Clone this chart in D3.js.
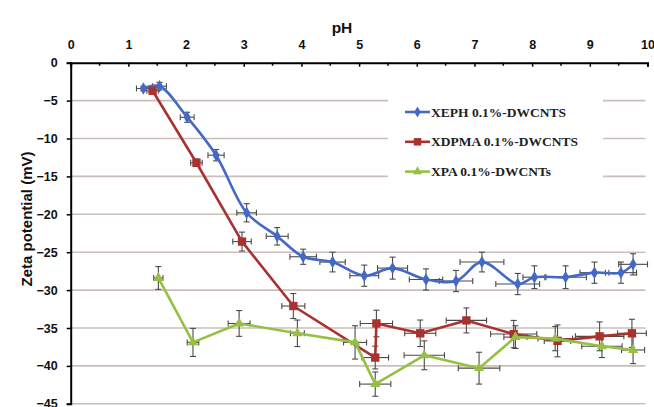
<!DOCTYPE html>
<html>
<head>
<meta charset="utf-8">
<script src="https://cdn.jsdelivr.net/npm/d3@7/dist/d3.min.js"></script>
<style>
  html, body { margin: 0; padding: 0; background: #fff; }
  svg { display: block; }
</style>
</head>
<body>
<svg id="chart" width="654" height="407"></svg>
<script>
// ---- data ----
const xTicks = [0, 1, 2, 3, 4, 5, 6, 7, 8, 9, 10];
const yTicks = [0, -5, -10, -15, -20, -25, -30, -35, -40, -45];

const seriesNames = ["XEPH 0.1%-DWCNTS", "XDPMA 0.1%-DWCNTS", "XPA 0.1%-DWCNTs"];

const phXEPH   = [1.26, 1.54, 2.02, 2.52, 3.05, 3.58, 4.03, 4.54, 5.09, 5.58, 6.16, 6.68, 7.13, 7.75, 8.04, 8.58, 9.08, 9.54, 9.75];
const zetaXEPH = [-3.4, -3.1, -7.2, -12.2, -19.8, -22.9, -25.6, -26.3, -28.1, -27.1, -28.6, -28.8, -26.3, -29.2, -28.3, -28.3, -27.7, -27.7, -26.6];
const xerrXEPH = [0.12, 0.12, 0.12, 0.14, 0.17, 0.19, 0.23, 0.22, 0.25, 0.26, 0.29, 0.29, 0.38, 0.38, 0.2, 0.36, 0.25, 0.27, 0.25];
const yerrXEPH = [0.3, 0.5, 0.66, 0.75, 1.2, 1.15, 1.0, 1.3, 1.4, 1.45, 1.4, 1.4, 1.3, 1.4, 1.5, 1.5, 1.4, 1.4, 1.4];

const phXDPMA   = [1.42, 2.18, 2.97, 3.86, 5.28, 5.30, 6.06, 6.86, 7.68, 8.44, 9.17, 9.73];
const zetaXDPMA = [-3.7, -13.2, -23.6, -32.1, -38.9, -34.4, -35.7, -34.0, -35.8, -36.7, -36.1, -35.7];
const xerrXDPMA = [0.1, 0.1, 0.16, 0.2, 0.23, 0.28, 0.27, 0.35, 0.4, 0.23, 0.42, 0.25];
const yerrXDPMA = [0.4, 0.5, 1.25, 1.65, 1.5, 1.75, 1.75, 1.65, 1.8, 2.1, 1.9, 1.85];

const phXPA   = [1.52, 2.12, 2.92, 3.93, 4.93, 5.28, 6.13, 7.08, 7.71, 8.40, 9.21, 9.75];
const zetaXPA = [-28.4, -36.9, -34.4, -35.7, -36.9, -42.4, -38.6, -40.3, -36.2, -36.4, -37.4, -37.9];
const xerrXPA = [0.08, 0.1, 0.19, 0.12, 0.2, 0.27, 0.35, 0.36, 0.2, 0.3, 0.35, 0.2];
const yerrXPA = [1.5, 1.85, 1.7, 1.75, 2.2, 1.6, 1.9, 2.1, 1.5, 1.6, 1.5, 1.8];

const colors = ["#4468c6", "#a8322f", "#95c043"];

// ---- build ----
const series = [
  { name: seriesNames[0], x: phXEPH, y: zetaXEPH, xe: xerrXEPH, ye: yerrXEPH, color: colors[0], symbol: d3.symbolDiamond, size: 45, curve: d3.curveCatmullRom.alpha(0.5) },
  { name: seriesNames[1], x: phXDPMA, y: zetaXDPMA, xe: xerrXDPMA, ye: yerrXDPMA, color: colors[1], symbol: d3.symbolSquare, size: 70, curve: d3.curveLinear },
  { name: seriesNames[2], x: phXPA, y: zetaXPA, xe: xerrXPA, ye: yerrXPA, color: colors[2], symbol: d3.symbolTriangle, size: 45, curve: d3.curveLinear }
];

const svg = d3.select("#chart");
const pLeft = 70.7, pRight = 647.5, pTop = 62.7, pBottom = 403.8;

const x = d3.scaleLinear().domain([0, 10]).range([pLeft, pRight]);
const y = d3.scaleLinear().domain([0, -45]).range([pTop, pBottom]);

// gridlines
svg.append("g").selectAll("line")
  .data(yTicks.filter(d => d !== 0))
  .join("line")
  .attr("x1", pLeft).attr("x2", pRight - 2)
  .attr("y1", d => y(d)).attr("y2", d => y(d))
  .attr("stroke", "#cbbfba").attr("stroke-width", 1.6);

// legend background (covers gridlines)
const lg = svg.append("g");
lg.append("rect").attr("x", 388).attr("y", 88).attr("width", 215).attr("height", 104).attr("fill", "#fff");

// error bars
const cap = 3;
series.forEach(s => {
  const g = svg.append("g").attr("stroke", "#4a4a4a").attr("stroke-width", 1.1);
  s.x.forEach((xv, i) => {
    const yv = s.y[i], xe = s.xe[i], ye = s.ye[i];
    const cx = x(xv), cy = y(yv);
    g.append("line").attr("x1", x(xv - xe)).attr("x2", x(xv + xe)).attr("y1", cy).attr("y2", cy);
    g.append("line").attr("x1", x(xv - xe)).attr("x2", x(xv - xe)).attr("y1", cy - cap).attr("y2", cy + cap);
    g.append("line").attr("x1", x(xv + xe)).attr("x2", x(xv + xe)).attr("y1", cy - cap).attr("y2", cy + cap);
    g.append("line").attr("x1", cx).attr("x2", cx).attr("y1", y(yv + ye)).attr("y2", y(yv - ye));
    g.append("line").attr("x1", cx - cap).attr("x2", cx + cap).attr("y1", y(yv + ye)).attr("y2", y(yv + ye));
    g.append("line").attr("x1", cx - cap).attr("x2", cx + cap).attr("y1", y(yv - ye)).attr("y2", y(yv - ye));
  });
});

// lines + markers
series.forEach(s => {
  const pts = s.x.map((xv, i) => [xv, s.y[i]]);
  const line = d3.line().x(d => x(d[0])).y(d => y(d[1])).curve(s.curve);
  svg.append("path").attr("d", line(pts)).attr("fill", "none")
    .attr("stroke", s.color).attr("stroke-width", 2.6).attr("stroke-linejoin", "round");
  svg.append("g").selectAll("path").data(pts).join("path")
    .attr("transform", d => `translate(${x(d[0])},${y(d[1])})`)
    .attr("d", d3.symbol().type(s.symbol).size(s.size))
    .attr("fill", s.color);
});

// x axis (top)
const xAxis = d3.axisTop(x).tickValues(xTicks).tickSize(-4).tickPadding(14).tickFormat(d3.format("d"));
const xg = svg.append("g").attr("transform", `translate(0,${pTop})`).call(xAxis);
xg.select(".domain").attr("stroke", "#000").attr("stroke-width", 2);
xg.selectAll(".tick line").attr("stroke", "#000").attr("stroke-width", 1.5);
xg.selectAll("text").attr("font-family", "Liberation Sans, Arial, sans-serif").attr("font-weight", "bold").attr("font-size", 12.5).attr("fill", "#111");
// minor ticks
svg.append("g").selectAll("line").data(d3.range(0.5, 10, 1)).join("line")
  .attr("x1", d => x(d)).attr("x2", d => x(d)).attr("y1", pTop).attr("y2", pTop + 3)
  .attr("stroke", "#000").attr("stroke-width", 1.5);

// y axis (left)
const yAxis = d3.axisLeft(y).tickValues(yTicks).tickSize(4).tickPadding(9).tickFormat(d3.format("d"));
const yg = svg.append("g").attr("transform", `translate(${pLeft},0)`).call(yAxis);
yg.select(".domain").attr("stroke", "#000").attr("stroke-width", 2);
yg.selectAll(".tick line").attr("stroke", "#000").attr("stroke-width", 1.5);
yg.selectAll("text").attr("font-family", "Liberation Sans, Arial, sans-serif").attr("font-weight", "bold").attr("font-size", 12.5).attr("fill", "#111");

// axis titles
svg.append("text").attr("x", 342).attr("y", 33).attr("text-anchor", "middle")
  .attr("font-family", "Liberation Sans, Arial, sans-serif").attr("font-weight", "bold").attr("font-size", 15.5)
  .attr("fill", "#111").text("pH");
svg.append("text").attr("transform", "translate(32,219) rotate(-90)").attr("text-anchor", "middle")
  .attr("font-family", "Liberation Sans, Arial, sans-serif").attr("font-weight", "bold").attr("font-size", 15)
  .attr("fill", "#111").text("Zeta potential (mV)");

// legend
series.forEach((s, i) => {
  const ly = 112 + i * 29.8;
  lg.append("line").attr("x1", 405).attr("x2", 430).attr("y1", ly).attr("y2", ly)
    .attr("stroke", s.color).attr("stroke-width", 2.6);
  lg.append("path").attr("transform", `translate(417.5,${ly})`)
    .attr("d", d3.symbol().type(s.symbol).size(s.size * 0.8)).attr("fill", s.color);
  lg.append("text").attr("x", 431).attr("y", ly + 4.5)
    .attr("font-family", "Liberation Serif, 'Times New Roman', serif").attr("font-weight", "bold")
    .attr("font-size", 13.5).attr("fill", "#222").text(s.name);
});
</script>
</body>
</html>
